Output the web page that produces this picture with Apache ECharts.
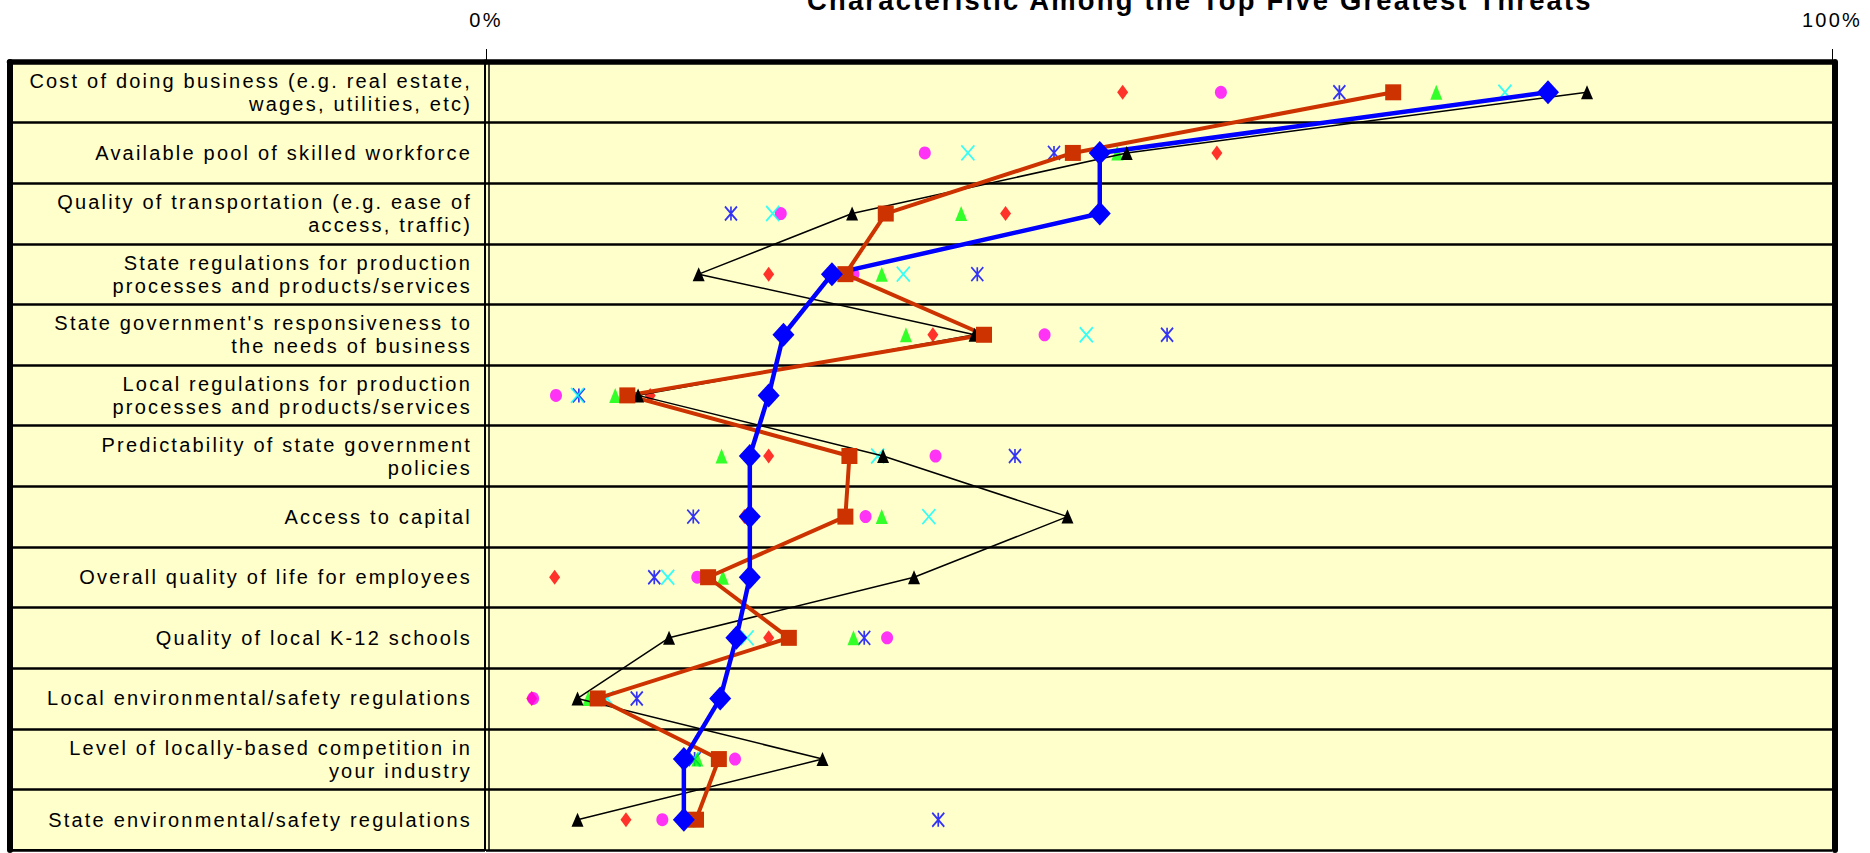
<!DOCTYPE html>
<html>
<head>
<meta charset="utf-8">
<script src="https://cdn.jsdelivr.net/npm/echarts@6/dist/echarts.min.js"></script>
<style>
html,body{margin:0;padding:0;background:#fff;}
#chart{width:1870px;height:853px;}
#chart svg text{letter-spacing:2.2px;}
</style>
</head>
<body>
<div id="chart"></div>
<script>
const chartTitle = "Characteristic Among the Top Five Greatest Threats";

const categories = [
  "Cost of doing business (e.g. real estate,\nwages, utilities, etc)",
  "Available pool of skilled workforce",
  "Quality of transportation (e.g. ease of\naccess, traffic)",
  "State regulations for production\nprocesses and products/services",
  "State government's responsiveness to\nthe needs of business",
  "Local regulations for production\nprocesses and products/services",
  "Predictability of state government\npolicies",
  "Access to capital",
  "Overall quality of life for employees",
  "Quality of local K-12 schools",
  "Local environmental/safety regulations",
  "Level of locally-based competition in\nyour industry",
  "State environmental/safety regulations"
];

// percentage of respondents ranking each characteristic among top five threats
const redDiamond    = [47.3, 54.3, 38.6, 21.0, 33.2, 12.2, 21.0, 19.2, 5.1, 21.0, 3.4, 14.6, 10.4];
const magentaCircle = [54.6, 32.6, 21.9, 27.3, 41.5, 5.2, 33.4, 28.2, 15.7, 29.8, 3.5, 18.5, 13.1];
const blueAsterisk  = [63.4, 42.2, 18.2, 36.5, 50.6, 6.9, 39.3, 15.4, 12.5, 28.1, 11.2, 15.5, 33.6];
const cyanCross     = [75.7, 35.8, 21.3, 31.0, 44.6, 6.8, 29.1, 32.9, 13.5, 19.4, 9.0, 15.4, 15.0];
const greenTriangle = [70.6, 46.9, 35.3, 29.4, 31.2, 9.6, 17.5, 29.4, 17.6, 27.3, 7.6, 15.7, 15.2];
const blackTriangle = [81.8, 47.6, 27.2, 15.8, 36.3, 11.3, 29.5, 43.2, 31.8, 13.6, 6.8, 25.0, 6.8];
const orangeSquare  = [67.4, 43.6, 29.7, 26.7, 37.0, 10.5, 27.0, 26.7, 16.5, 22.5, 8.3, 17.3, 15.6];
const blueDiamond   = [78.9, 45.6, 45.6, 25.7, 22.1, 21.0, 19.6, 19.6, 19.6, 18.6, 17.4, 14.7, 14.7];

const xMin = 0, xMax = 100, xInterval = 100;

const FONT = 'Liberation Sans';
const YELLOW = '#FFFFCC';

function pts(vals){ return vals.map((v,i)=>[v,i]); }

const chart = echarts.init(document.getElementById('chart'), null, {renderer:'svg'});

function markerSeries(name, vals, symbol, size, color, stroke){
  return {
    name, type:'scatter', xAxisIndex:0, yAxisIndex:0,
    data: pts(vals), symbol, symbolSize: size,
    itemStyle: stroke ? {color:'transparent', borderColor: color, borderWidth: 1.8} : {color},
    emphasis:{disabled:true}, silent:true
  };
}
function lineSeries(name, vals, symbol, size, color, width){
  return {
    name, type:'line', xAxisIndex:0, yAxisIndex:0,
    data: vals, symbol, symbolSize: size, showSymbol:true, showAllSymbol:true,
    itemStyle:{color}, lineStyle:{color, width},
    emphasis:{disabled:true}, silent:true
  };
}

const option = {
  backgroundColor:'#ffffff',
  animation:false,
  title:{
    text: chartTitle, left: 807, top: -14, padding: 0,
    textStyle:{fontFamily:FONT, fontSize:27.4, fontWeight:'bold', color:'#000', lineHeight:28}
  },
  grid:[
    {left:486, right:38, top:62, bottom:3, show:true, backgroundColor:YELLOW, borderWidth:0},
    {left:9.5, right:1385, top:62, bottom:3, show:true, backgroundColor:YELLOW, borderColor:'#000', borderWidth:2}
  ],
  xAxis:[
    {type:'value', gridIndex:0, position:'top', min:xMin, max:xMax, interval:xInterval,
     axisLine:{show:true, lineStyle:{color:'#000', width:5.5}},
     axisTick:{show:true, length:13, lineStyle:{color:'#000', width:1}},
     axisLabel:{show:true, margin:32, formatter:'{value}%', fontFamily:FONT, fontSize:20, color:'#000'},
     splitLine:{show:false}},
    {type:'value', gridIndex:1, position:'top', min:0, max:1,
     axisLine:{show:true, lineStyle:{color:'#000', width:5.5}},
     axisTick:{show:false}, axisLabel:{show:false}, splitLine:{show:false}}
  ],
  yAxis:[
    {type:'category', gridIndex:0, data:categories, inverse:true, position:'left', offset:-3,
     axisLine:{show:true, lineStyle:{color:'#000', width:1.5}},
     axisTick:{show:false},
     axisLabel:{show:true, interval:0, margin:17, fontFamily:FONT, fontSize:20, lineHeight:23, color:'#000', align:'right', padding:[5,0,0,0]},
     splitLine:{show:true, interval:0, lineStyle:{color:'#000', width:2.5}}},
    {type:'category', gridIndex:0, data:categories, inverse:true, position:'right', offset:3,
     axisLine:{show:true, lineStyle:{color:'#000', width:6}},
     axisTick:{show:false}, axisLabel:{show:false}, splitLine:{show:false}},
    {type:'category', gridIndex:1, data:categories, inverse:true, position:'left',
     axisLine:{show:true, lineStyle:{color:'#000', width:6}},
     axisTick:{show:false}, axisLabel:{show:false},
     splitLine:{show:true, interval:0, lineStyle:{color:'#000', width:2.5}}}
  ],
  series:[
    markerSeries('Red diamond', redDiamond, 'diamond', [11,15], '#FF0000'),
    markerSeries('Magenta circle', magentaCircle, 'circle', [12,13], '#FF00FF'),
    markerSeries('Blue asterisk', blueAsterisk, 'path://M0,0L12,14M12,0L0,14M6,0L6,14', [12,14], '#0000FF', true),
    markerSeries('Cyan cross', cyanCross, 'path://M0,0L12,14M12,0L0,14', [13,15], '#00FFFF', true),
    markerSeries('Green triangle', greenTriangle, 'triangle', [12,15], '#00FF00'),
    lineSeries('Black triangle', blackTriangle, 'triangle', [12,14], '#000000', 1.5),
    lineSeries('Orange square', orangeSquare, 'rect', 16, '#CC3300', 4),
    lineSeries('Blue diamond', blueDiamond, 'diamond', [22,24], '#0000FF', 4.5)
  ]
};
chart.setOption(option);
</script>
</body>
</html>
